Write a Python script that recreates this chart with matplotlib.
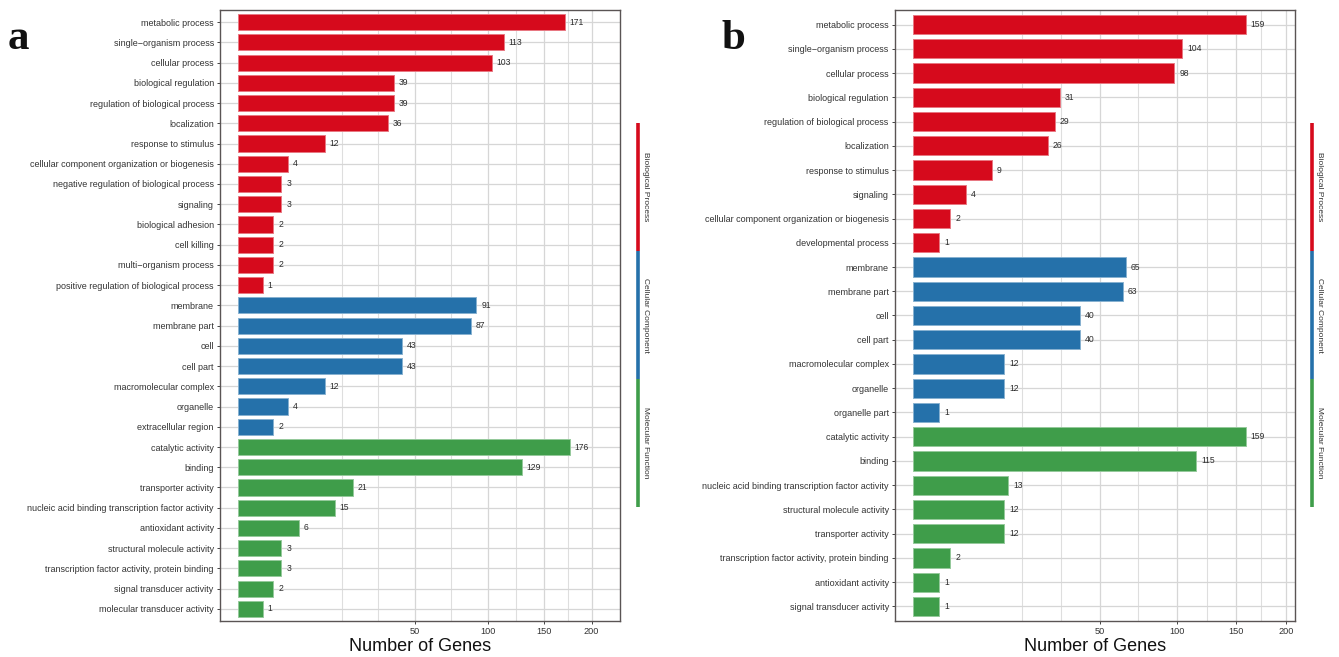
import numpy as np
import matplotlib
matplotlib.use("Agg")
import matplotlib.pyplot as plt
from matplotlib.colors import to_rgb

plt.rcParams['font.family'] = ['Liberation Sans', 'DejaVu Sans']

# ---- panel a: GO terms and gene counts ----
bp_terms_a = ["metabolic process", "single\u2212organism process", "cellular process",
              "biological regulation", "regulation of biological process", "localization",
              "response to stimulus", "cellular component organization or biogenesis",
              "negative regulation of biological process", "signaling", "biological adhesion",
              "cell killing", "multi\u2212organism process", "positive regulation of biological process"]
bp_counts_a = [171, 113, 103, 39, 39, 36, 12, 4, 3, 3, 2, 2, 2, 1]
cc_terms_a = ["membrane", "membrane part", "cell", "cell part", "macromolecular complex",
              "organelle", "extracellular region"]
cc_counts_a = [91, 87, 43, 43, 12, 4, 2]
mf_terms_a = ["catalytic activity", "binding", "transporter activity",
              "nucleic acid binding transcription factor activity", "antioxidant activity",
              "structural molecule activity", "transcription factor activity, protein binding",
              "signal transducer activity", "molecular transducer activity"]
mf_counts_a = [176, 129, 21, 15, 6, 3, 3, 2, 1]

# ---- panel b: GO terms and gene counts ----
bp_terms_b = ["metabolic process", "single\u2212organism process", "cellular process",
              "biological regulation", "regulation of biological process", "localization",
              "response to stimulus", "signaling",
              "cellular component organization or biogenesis", "developmental process"]
bp_counts_b = [159, 104, 98, 31, 29, 26, 9, 4, 2, 1]
cc_terms_b = ["membrane", "membrane part", "cell", "cell part", "macromolecular complex",
              "organelle", "organelle part"]
cc_counts_b = [65, 63, 40, 40, 12, 12, 1]
mf_terms_b = ["catalytic activity", "binding", "nucleic acid binding transcription factor activity",
              "structural molecule activity", "transporter activity",
              "transcription factor activity, protein binding", "antioxidant activity",
              "signal transducer activity"]
mf_counts_b = [159, 115, 13, 12, 12, 2, 1, 1]

x_breaks = [50, 100, 150, 200]
ontology_names = ["Biological Process", "Cellular Component", "Molecular Function"]
ontology_colors = ["#D60A1C", "#2571AA", "#3F9D4A"]

FIG_W, FIG_H = 1339, 657


def fwd(x):
    x = np.asarray(x, dtype=float)
    return np.sign(x) * np.sqrt(np.abs(x))


def inv(y):
    y = np.asarray(y, dtype=float)
    return np.sign(y) * np.square(y)


def lighten(c, f=0.45):
    r, g, b = to_rgb(c)
    return (r + (1 - r) * f, g + (1 - g) * f, b + (1 - b) * f)


def go_panel(fig, rect_px, groups, xlim_sqrt, strip_x, strip_text_x):
    left, right, top, bottom = rect_px
    ax = fig.add_axes([left / FIG_W, (FIG_H - bottom) / FIG_H,
                       (right - left) / FIG_W, (bottom - top) / FIG_H])
    terms, counts, colors = [], [], []
    for (t, c), col in zip(groups, ontology_colors):
        terms += t
        counts += c
        colors += [col] * len(t)
    n = len(terms)
    y = np.arange(n)

    ax.set_xscale('function', functions=(fwd, inv))
    ax.barh(y, counts, height=0.8, color=colors,
            edgecolor=[lighten(c) for c in colors], linewidth=0.7, zorder=3)
    for yi, v in zip(y, counts):
        ax.annotate(str(v), xy=(v, yi), xytext=(3.5, 0), textcoords='offset points',
                    ha='left', va='center', fontsize=6.2, color='#2b2b2b', zorder=4)

    ax.set_yticks(y)
    ax.set_yticklabels(terms, fontsize=6.5, color='#333333')
    ax.set_xticks(x_breaks)
    ax.set_xticklabels([str(b) for b in x_breaks], fontsize=6.6, color='#333333')

    # minor grid lines at midpoints between breaks in square-root space
    s = fwd(x_breaks)
    step = s[1] - s[0]
    ext = np.concatenate([[s[0] - step], s, [s[-1] + step]])
    mids = (ext[:-1] + ext[1:]) / 2
    minor = np.concatenate([[ext[0]], mids])
    minor = minor[minor < xlim_sqrt[1]]
    ax.set_xticks(inv(minor), minor=True)

    ax.set_ylim(n - 0.4, -0.6)
    ax.set_xlim(inv(xlim_sqrt[0]), inv(xlim_sqrt[1]))

    ax.grid(True, which='major', axis='both', color='#D6D6D6', linewidth=0.9, zorder=0)
    ax.grid(True, which='minor', axis='x', color='#DEDEDE', linewidth=0.8, zorder=0)
    ax.set_axisbelow(True)
    ax.tick_params(axis='both', which='major', length=2.5, width=0.7, color='#444444', pad=2)
    ax.tick_params(axis='x', which='minor', length=0)
    for sp in ax.spines.values():
        sp.set_color('#5A5454')
        sp.set_linewidth(1.0)
    ax.set_xlabel("Number of Genes", fontsize=13, color='#111111', labelpad=1)

    # ontology strip at the right of the panel
    y0, y1 = 507, 123
    seg = (y0 - y1) / 3
    for k, (name, col) in enumerate(zip(ontology_names, ontology_colors)):
        top_px = y1 + k * seg
        bot_px = y1 + (k + 1) * seg
        fx = strip_x / FIG_W
        fig.add_artist(plt.Line2D([fx, fx], [(FIG_H - top_px) / FIG_H, (FIG_H - bot_px) / FIG_H],
                                  color=col, linewidth=2.6, solid_capstyle='butt'))
        fig.text(strip_text_x / FIG_W, (FIG_H - (top_px + bot_px) / 2) / FIG_H, name,
                 rotation=270, ha='center', va='center', fontsize=6.0, color='#333333')
    return ax


fig = plt.figure(figsize=(FIG_W / 100, FIG_H / 100), dpi=100)

go_panel(fig, (220, 620, 10, 621),
         [(bp_terms_a, bp_counts_a), (cc_terms_a, cc_counts_a), (mf_terms_a, mf_counts_a)],
         (-0.72, 15.28), 638, 645)
go_panel(fig, (895, 1295, 10, 621),
         [(bp_terms_b, bp_counts_b), (cc_terms_b, cc_counts_b), (mf_terms_b, mf_counts_b)],
         (-0.68, 14.47), 1312, 1319)

fig.text(8 / FIG_W, (FIG_H - 49) / FIG_H, "a", fontsize=31, fontweight='bold',
         family=['Liberation Serif', 'DejaVu Serif'], ha='left', va='baseline', color='#111111')
fig.text(721 / FIG_W, (FIG_H - 49) / FIG_H, "b", fontsize=31, fontweight='bold',
         family=['Liberation Serif', 'DejaVu Serif'], ha='left', va='baseline', color='#111111')

fig.savefig("out.png", dpi=100, facecolor='white')
